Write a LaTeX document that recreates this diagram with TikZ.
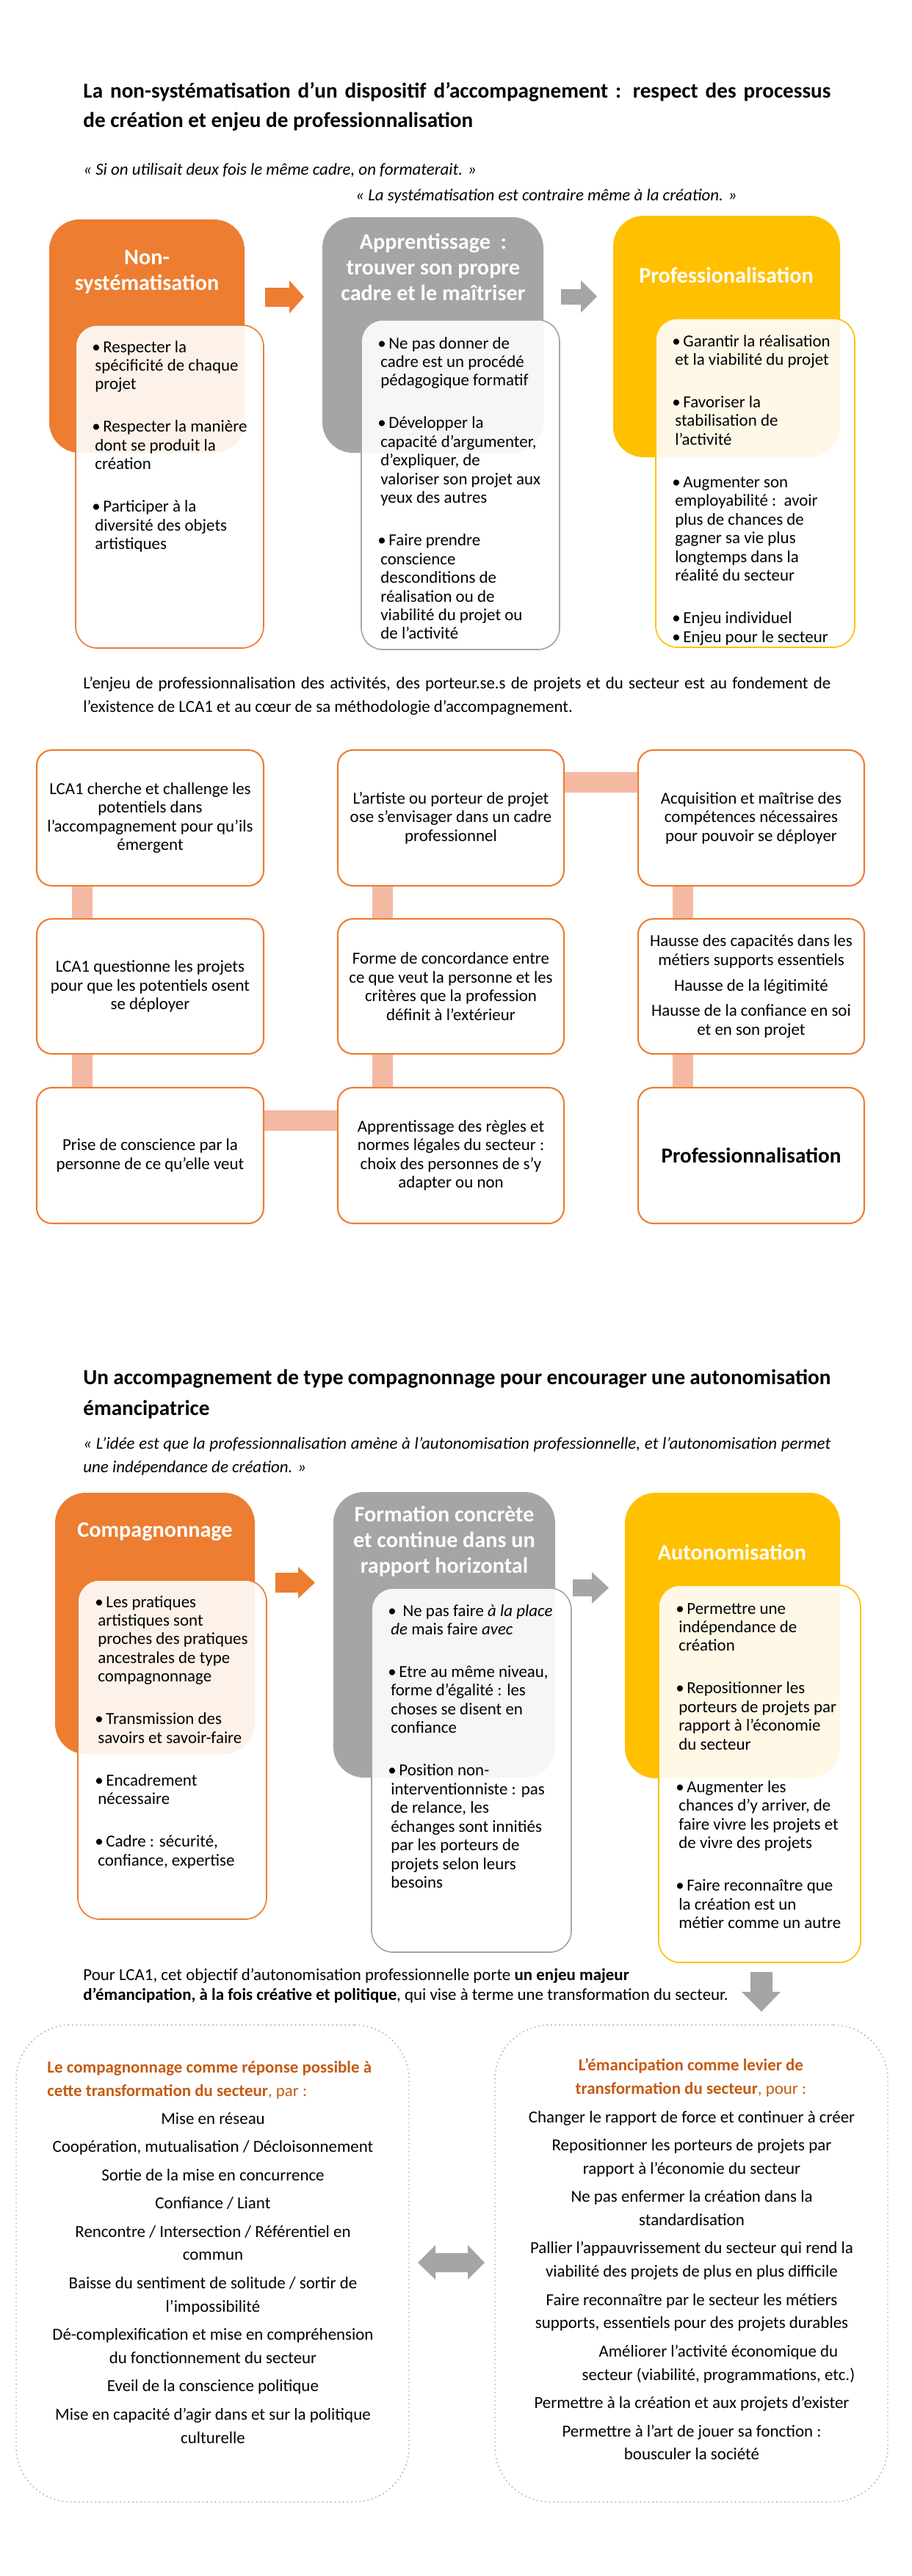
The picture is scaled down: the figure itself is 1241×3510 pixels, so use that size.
\documentclass[tikz,border=0pt]{standalone}
\usepackage{fontspec}
\setmainfont{Carlito}
\usetikzlibrary{fit,calc}

\definecolor{orangeF}{HTML}{ED7D31}
\definecolor{grisF}{HTML}{A5A5A5}
\definecolor{orF}{HTML}{FFC000}
\definecolor{saumon}{HTML}{F4B9A2}
\definecolor{brique}{HTML}{C55A11}
\definecolor{pointille}{HTML}{A6A6A6}

\newcommand{\lignes}[2][l]{\begin{tabular}[t]{@{}#1@{}}#2\end{tabular}}
\newcommand{\puce}{\makebox[7.2pt][l]{\textbullet}}
\newcommand{\retrait}{\hspace*{1.9pt}}
\newcommand{\ecart}{\\[15.7pt]}
\newcommand{\saut}{\\[3.3pt]}

\tikzset{
  titre/.style={anchor=base west, inner sep=0pt, font=\bfseries\fontsize{14}{19.2}\selectfont},
  texte/.style={anchor=base west, inner sep=0pt, font=\fontsize{11}{15.6}\selectfont},
  citation/.style={texte, font=\itshape\fontsize{11}{15.4}\selectfont},
  bloc/.style={inner sep=0pt, rounded corners=20pt},
  entete/.style={inner sep=0pt, text=white, align=center, font=\bfseries\fontsize{14.5}{16.8}\selectfont},
  cartouche/.style={fill=white, fill opacity=0.9, line width=0.8pt, rounded corners=14pt, inner sep=0pt},
  puces/.style={anchor=base west, inner sep=0pt, font=\fontsize{11}{12.2}\selectfont},
  case/.style={draw=orangeF, fill=white, line width=1pt, rounded corners=10pt, inner sep=0pt},
  textecase/.style={inner sep=0pt, align=center, font=\fontsize{11}{12.2}\selectfont},
  lien/.style={draw=saumon, line width=13.4pt},
  cadre/.style={draw=pointille, dotted, line width=0.7pt, rounded corners=36pt, inner sep=0pt},
  liste/.style={anchor=base, inner sep=0pt, font=\fontsize{11}{15.2}\selectfont}
}

\begin{document}
\begin{tikzpicture}[x=0.48pt, y=-0.48pt]
  \useasboundingbox (0,0) rectangle (1241,3510);

  % Partie 1 : le titre et les citations
  \node[titre] (titre1) at (113,133) {\lignes{\makebox[488.6pt][s]{La non-systématisation d’un dispositif d’accompagnement : respect des processus}\\de création et enjeu de professionnalisation}};
  \node[citation] (cit1) at (113,238) {« Si on utilisait deux fois le même cadre, on formaterait. »};
  \node[citation] (cit2) at (484,273) {« La systématisation est contraire même à la création. »};

  % Les blocs de couleur
  \node[bloc, fill=orangeF, fit={(67,299)(333,617)}] (bloc1) {};
  \node[bloc, fill=grisF, fit={(439,296)(740,617)}] (bloc2) {};
  \node[bloc, fill=orF, fit={(835,294)(1144,623)}] (bloc3) {};

  % Les flèches
  \fill[orangeF] (361,392) -- (394,392) -- (394,382) -- (414,404.5) -- (394,427) -- (394,418) -- (361,418) -- cycle;
  \fill[grisF] (764,394) -- (791,394) -- (791,382) -- (813,404) -- (791,426) -- (791,415) -- (764,415) -- cycle;

  % Les entêtes
  \node[entete] (ent1) at (200,371) {Non-\\systématisation};
  \node[entete] (ent2) at (590,364) {Apprentissage\ \ :\\trouver son propre\\cadre et le maîtriser};
  \node[entete] (ent3) at (989,375) {Professionalisation};

  % Les cartouches
  \node[cartouche, draw=orangeF, fit={(103,443)(359,883)}] (cart1) {};
  \node[cartouche, draw=grisF, fit={(492,436)(762,885)}] (cart2) {};
  \node[cartouche, draw=orF, fit={(893,434)(1164,882)}] (cart3) {};

  % Les puces
  \node[puces] (puce1) at (125,480) {\lignes{\puce Respecter la\\\retrait spécificité de chaque\\\retrait projet\ecart
    \puce Respecter la manière\\\retrait dont se produit la\\\retrait création\ecart
    \puce Participer à la\\\retrait diversité des objets\\\retrait artistiques}};
  \node[puces] (puce2) at (514,475) {\lignes{\puce Ne pas donner de\\\retrait cadre est un procédé\\\retrait pédagogique formatif\ecart
    \puce Développer la\\\retrait capacité d’argumenter,\\\retrait d’expliquer, de\\\retrait valoriser son projet aux\\\retrait yeux des autres\ecart
    \puce Faire prendre\\\retrait conscience\\\retrait desconditions de\\\retrait réalisation ou de\\\retrait viabilité du projet ou\\\retrait de l'activité}};
  \node[puces] (puce3) at (915,472) {\lignes{\puce Garantir la réalisation\\\retrait et la viabilité du projet\ecart
    \puce Favoriser la\\\retrait stabilisation de\\\retrait l'activité\ecart
    \puce Augmenter son\\\retrait employabilité :\ \ avoir\\\retrait plus de chances de\\\retrait gagner sa vie plus\\\retrait longtemps dans la\\\retrait réalité du secteur\ecart
    \puce Enjeu individuel\\\puce Enjeu pour le secteur}};

  \node[texte] (para1) at (113,938) {\lignes{\makebox[488.6pt][s]{L’enjeu de professionnalisation des activités, des porteur.se.s de projets et du secteur est au fondement de}\\l’existence de LCA1 et au cœur de sa méthodologie d’accompagnement.}};

  % La grille
  \node[case, fit={(50,1022)(359,1207)}] (a1) {};
  \node[case, fit={(460,1022)(768,1207)}] (b1) {};
  \node[case, fit={(869,1022)(1177,1207)}] (c1) {};
  \node[case, fit={(50,1252)(359,1436)}] (a2) {};
  \node[case, fit={(460,1252)(768,1436)}] (b2) {};
  \node[case, fit={(869,1252)(1177,1436)}] (c2) {};
  \node[case, fit={(50,1482)(359,1667)}] (a3) {};
  \node[case, fit={(460,1482)(768,1667)}] (b3) {};
  \node[case, fit={(869,1482)(1177,1667)}] (c3) {};

  \node[textecase] (ta1) at (a1) {LCA1 cherche et challenge les\\potentiels dans\\l'accompagnement pour qu’ils\\émergent};
  \node[textecase] (tb1) at (b1) {L’artiste ou porteur de projet\\ose s’envisager dans un cadre\\professionnel};
  \node[textecase] (tc1) at (c1) {Acquisition et maîtrise des\\compétences nécessaires\\pour pouvoir se déployer};
  \node[textecase] (ta2) at (a2) {LCA1 questionne les projets\\pour que les potentiels osent\\se déployer};
  \node[textecase] (tb2) at (b2) {Forme de concordance entre\\ce que veut la personne et les\\critères que la profession\\définit à l’extérieur};
  \node[textecase] (tc2) at (c2) {Hausse des capacités dans les\\métiers supports essentiels\\[4.5pt]Hausse de la légitimité\\[4.5pt]Hausse de la confiance en soi\\et en son projet};
  \node[textecase] (ta3) at (a3) {Prise de conscience par la\\personne de ce qu'elle veut};
  \node[textecase] (tb3) at (b3) {Apprentissage des règles et\\normes légales du secteur :\\choix des personnes de s'y\\adapter ou non};
  \node[textecase, font=\bfseries\fontsize{14}{16}\selectfont] (tc3) at (c3) {Professionnalisation};

  % Les liens
  \draw[lien] ($(a1.south west)+(63,0)$) -- ($(a2.north west)+(63,0)$);
  \draw[lien] ($(a2.south west)+(63,0)$) -- ($(a3.north west)+(63,0)$);
  \draw[lien] ($(a3.north east)+(0,46)$) -- ($(b3.north west)+(0,46)$);
  \draw[lien] ($(b3.north west)+(62,0)$) -- ($(b2.south west)+(62,0)$);
  \draw[lien] ($(b2.north west)+(62,0)$) -- ($(b1.south west)+(62,0)$);
  \draw[lien] ($(b1.north east)+(0,45)$) -- ($(c1.north west)+(0,45)$);
  \draw[lien] ($(c1.south west)+(62,0)$) -- ($(c2.north west)+(62,0)$);
  \draw[lien] ($(c2.south west)+(62,0)$) -- ($(c3.north west)+(62,0)$);

  % Partie 2 : le titre et la citation
  \node[titre, font=\bfseries\fontsize{14}{20.2}\selectfont] (titre2) at (113,1886) {\lignes{\makebox[488.6pt][s]{Un accompagnement de type compagnonnage pour encourager une autonomisation}\\émancipatrice}};
  \node[citation] (cit3) at (113,1974) {\lignes{\makebox[488.6pt][s]{« L’idée est que la professionnalisation amène à l’autonomisation professionnelle, et l’autonomisation permet}\\une indépendance de création. »}};

  % Les blocs de couleur
  \node[bloc, fill=orangeF, fit={(75,2034)(347,2390)}] (bloc4) {};
  \node[bloc, fill=grisF, fit={(454,2033)(756,2422)}] (bloc5) {};
  \node[bloc, fill=orF, fit={(851,2034)(1144,2423)}] (bloc6) {};

  % Les flèches
  \fill[orangeF] (375,2143) -- (406,2143) -- (406,2135) -- (429,2156.5) -- (406,2178) -- (406,2170) -- (375,2170) -- cycle;
  \fill[grisF] (780,2152) -- (806,2152) -- (806,2142) -- (829,2163.5) -- (806,2185) -- (806,2175) -- (780,2175) -- cycle;

  % Les entêtes
  \node[entete] (ent4) at (211,2087) {Compagnonnage};
  \node[entete] (ent5) at (605,2100) {Formation concrète\\et continue dans un\\rapport horizontal};
  \node[entete] (ent6) at (997,2115) {Autonomisation};

  % Les cartouches
  \node[cartouche, draw=orangeF, fit={(106,2153)(363,2615)}] (cart4) {};
  \node[cartouche, draw=grisF, fit={(506,2164)(778,2660)}] (cart5) {};
  \node[cartouche, draw=orF, fit={(897,2160)(1172,2674)}] (cart6) {};

  % Les puces
  \node[puces] (puce4) at (129,2190) {\lignes{\puce Les pratiques\\\retrait artistiques sont\\\retrait proches des pratiques\\\retrait ancestrales de type\\\retrait compagnonnage\ecart
    \puce Transmission des\\\retrait savoirs et savoir-faire\ecart
    \puce Encadrement\\\retrait nécessaire\ecart
    \puce Cadre : sécurité,\\\retrait confiance, expertise}};
  \node[puces] (puce5) at (528,2202) {\lignes{\puce\ Ne pas faire \textit{à la place}\\\retrait\textit{de} mais faire \textit{avec}\ecart
    \puce Etre au même niveau,\\\retrait forme d’égalité : les\\\retrait choses se disent en\\\retrait confiance\ecart
    \puce Position non-\\\retrait interventionniste : pas\\\retrait de relance, les\\\retrait échanges sont innitiés\\\retrait par les porteurs de\\\retrait projets selon leurs\\\retrait besoins}};
  \node[puces] (puce6) at (920,2199) {\lignes{\puce Permettre une\\\retrait indépendance de\\\retrait création\ecart
    \puce Repositionner les\\\retrait porteurs de projets par\\\retrait rapport à l'économie\\\retrait du secteur\ecart
    \puce Augmenter les\\\retrait chances d’y arriver, de\\\retrait faire vivre les projets et\\\retrait de vivre des projets\ecart
    \puce Faire reconnaître que\\\retrait la création est un\\\retrait métier comme un autre}};

  \node[texte, font=\fontsize{11}{13}\selectfont] (para2) at (113,2698) {\lignes{Pour LCA1, cet objectif d’autonomisation professionnelle porte \textbf{un enjeu majeur}\\\textbf{d’émancipation, à la fois créative et politique}, qui vise à terme une transformation du secteur.}};

  % La flèche vers le bas
  \fill[grisF] (1022,2687) -- (1052,2687) -- (1052,2714) -- (1063,2714) -- (1037,2741) -- (1010,2714) -- (1022,2714) -- cycle;

  % Les deux cadres
  \node[cadre, fit={(22,2759)(557,3409)}] (cadreG) {};
  \node[cadre, fit={(674,2759)(1209,3409)}] (cadreD) {};

  % La double flèche
  \fill[grisF] (569,3083) -- (593,3059) -- (593,3070) -- (637,3070) -- (637,3059) -- (660,3083) -- (637,3106) -- (637,3096) -- (593,3096) -- (593,3106) -- cycle;

  % Le cadre de gauche
  \node[texte, text=brique, font=\fontsize{11}{15.4}\selectfont] (enteteG) at (64,2824) {\lignes{\textbf{Le compagnonnage comme réponse possible à}\\\textbf{cette transformation du secteur}, par :}};
  \node[liste] (listeG) at (290,2894) {\lignes[c]{Mise en réseau\saut
    Coopération, mutualisation / Décloisonnement\saut
    Sortie de la mise en concurrence\saut
    Confiance / Liant\saut
    Rencontre / Intersection / Référentiel en\\commun\saut
    Baisse du sentiment de solitude / sortir de\\l’impossibilité\saut
    Dé-complexification et mise en compréhension\\du fonctionnement du secteur\saut
    Eveil de la conscience politique\saut
    Mise en capacité d’agir dans et sur la politique\\culturelle}};

  % Le cadre de droite
  \node[liste, text=brique, font=\fontsize{11}{15.4}\selectfont] (enteteD) at (941,2821) {\lignes[c]{\textbf{L’émancipation comme levier de}\\\textbf{transformation du secteur}, pour :}};
  \node[liste] (listeD) at (942,2892) {\lignes[c]{Changer le rapport de force et continuer à créer\saut
    Repositionner les porteurs de projets par\\rapport à l'économie du secteur\saut
    Ne pas enfermer la création dans la\\standardisation\saut
    Pallier l’appauvrissement du secteur qui rend la\\viabilité des projets de plus en plus difficile\saut
    Faire reconnaître par le secteur les métiers\\supports, essentiels pour des projets durables\saut
    \hspace*{35pt}Améliorer l’activité économique du\\\hspace*{35pt}secteur (viabilité, programmations, etc.)\saut
    Permettre à la création et aux projets d’exister\saut
    Permettre à l’art de jouer sa fonction :\\bousculer la société}};

\end{tikzpicture}
\end{document}
